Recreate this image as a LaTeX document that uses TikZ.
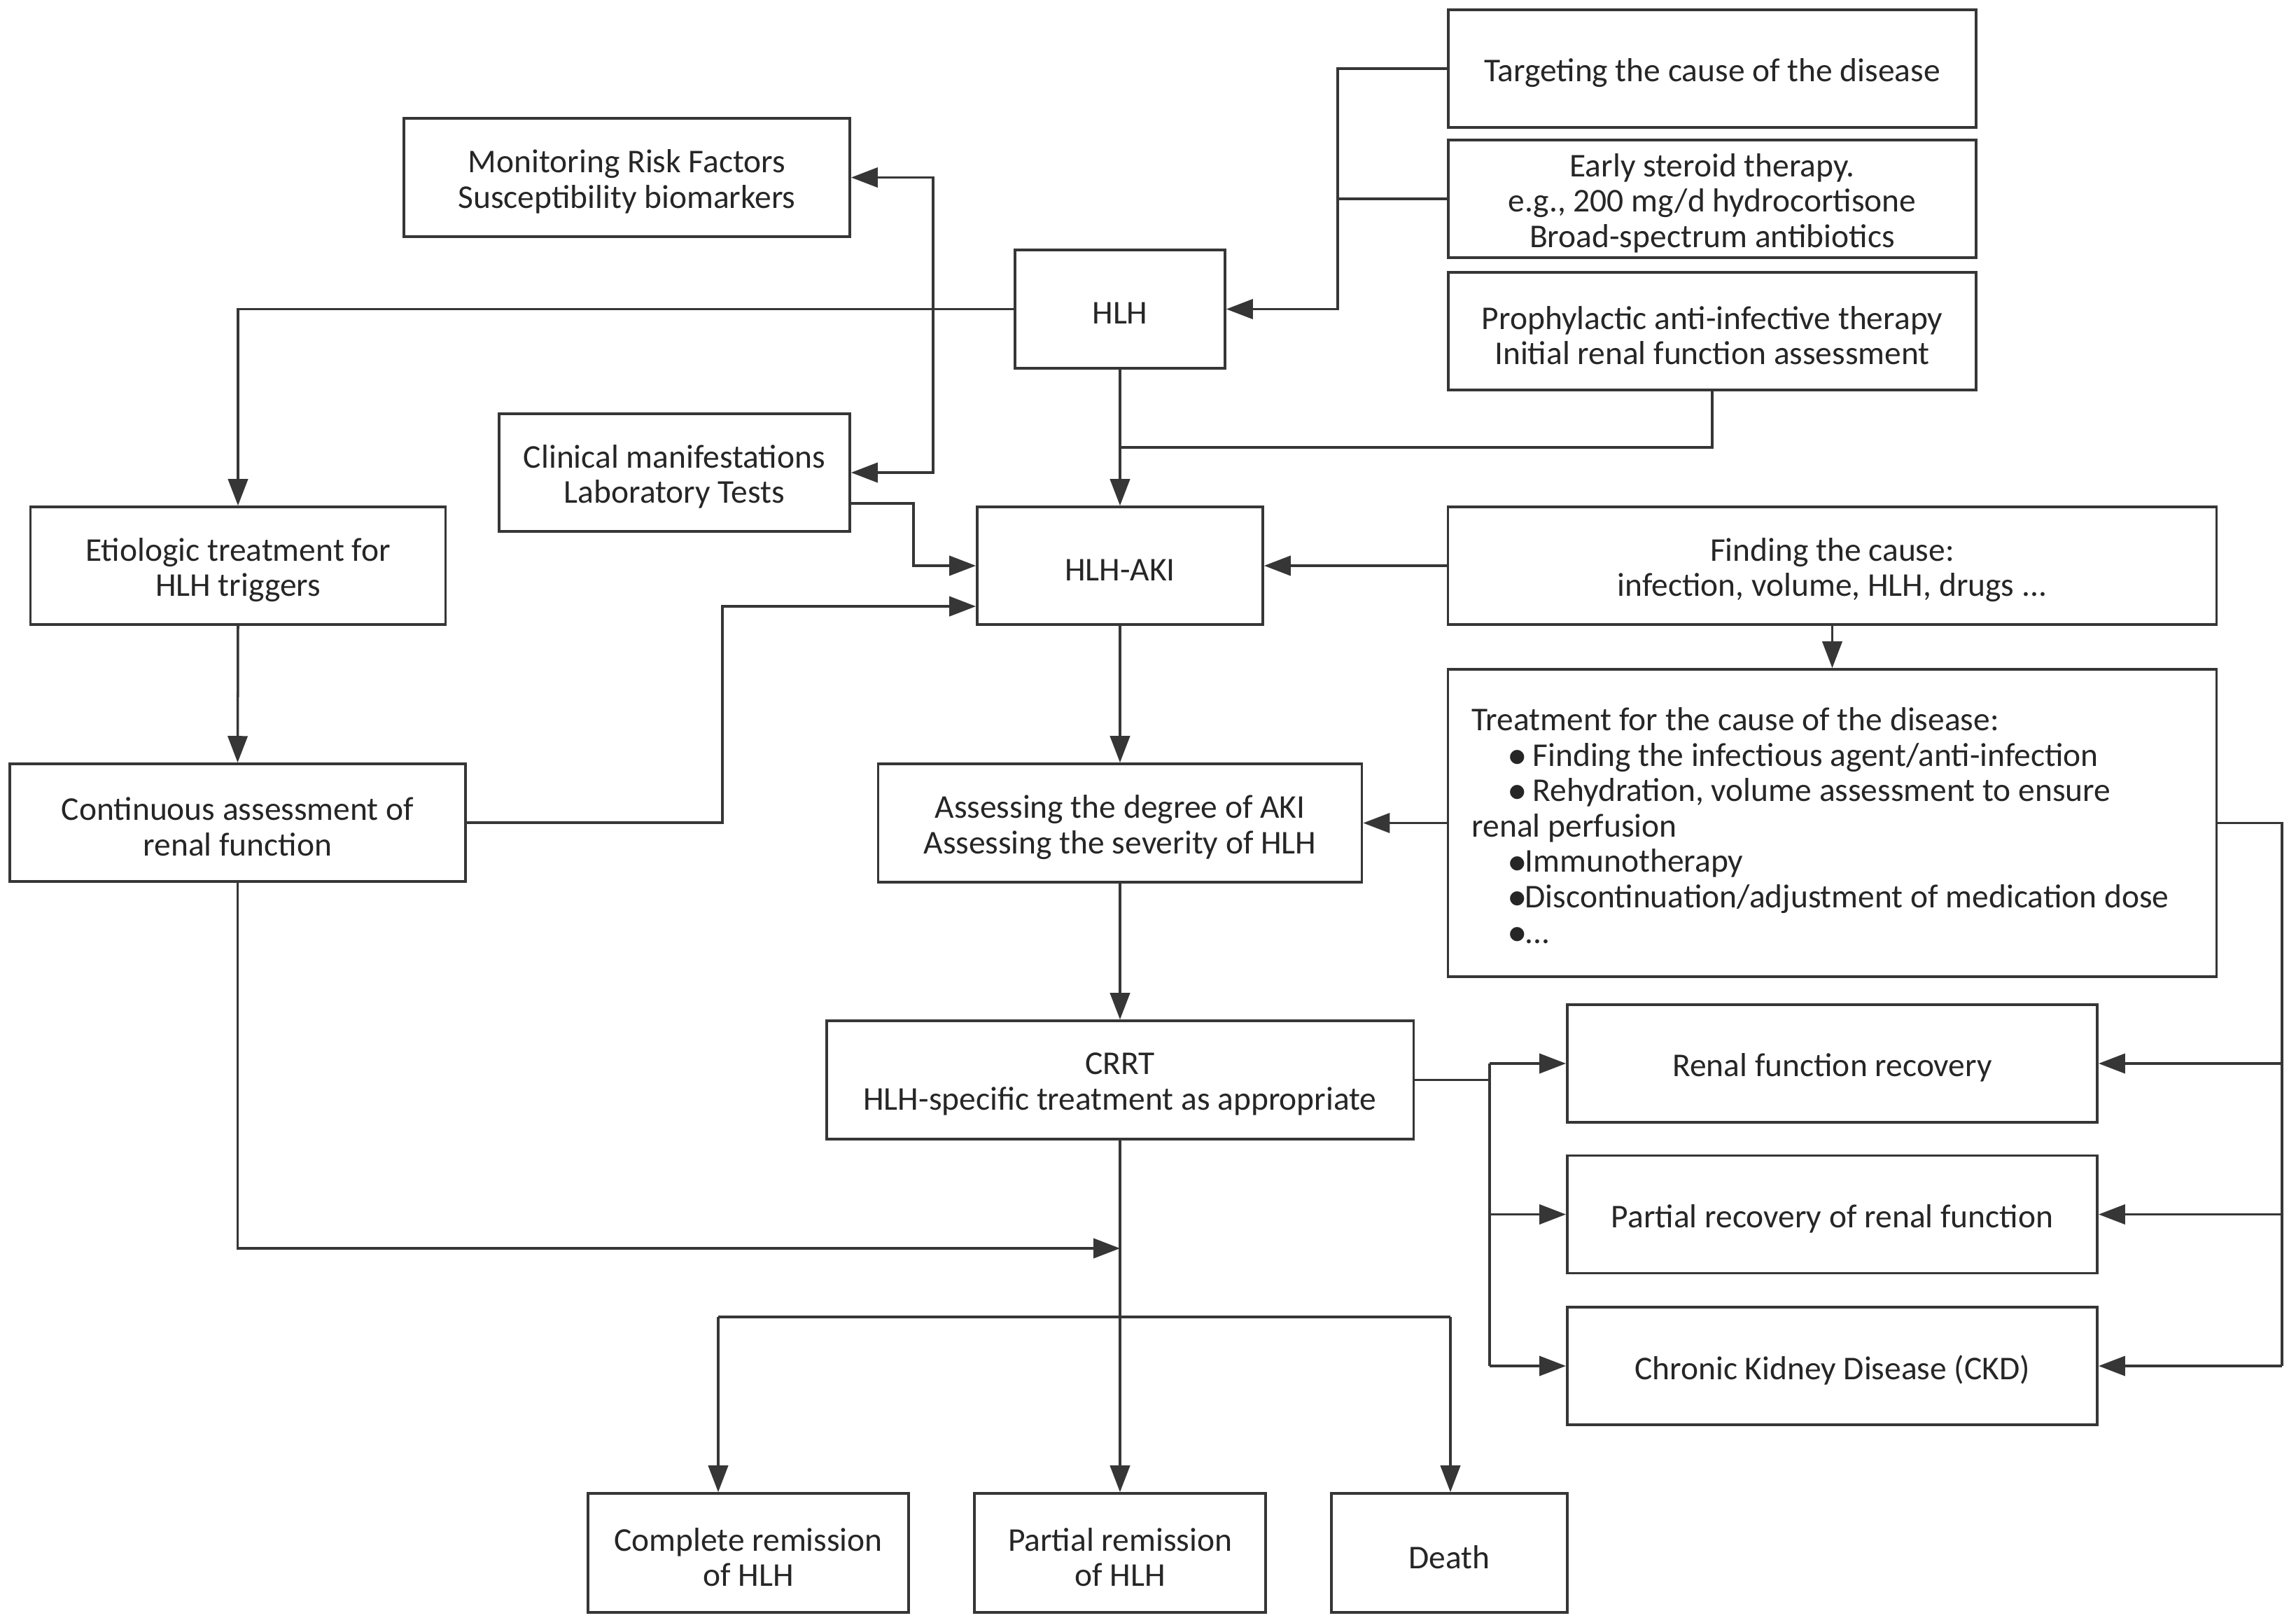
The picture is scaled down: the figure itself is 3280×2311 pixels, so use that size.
\documentclass[tikz,border=0pt]{standalone}
\usepackage{fontspec}
\setmainfont{Carlito}
\newfontfamily\symfont{DejaVu Sans}
\usetikzlibrary{arrows.meta}
\definecolor{ln}{HTML}{363636}
\definecolor{tx}{HTML}{262626}
\newcommand{\bul}{\raisebox{0.12em}{\symfont\fontsize{7.5}{7.5}\selectfont ●}}
% \bx{name}{x,y}{width}{height}{text}
\newcommand{\bx}[5]{%
  \node[box,minimum width=#3,minimum height=#4] (#1) at (#2) {};
  \node[txt] (#1-t) at ([yshift=-0.06cm]#1.center) {#5};}
\begin{document}
\begin{tikzpicture}[x=0.01cm,y=-0.01cm,
  box/.style={draw=ln,line width=1pt,inner sep=0pt},
  txt/.style={inner sep=0pt,align=center,text=tx,font=\fontsize{13.5}{14.4}\selectfont},
  arr/.style={draw=ln,line width=1pt,-{Triangle[length=10.8pt,width=8pt]}},
  ln/.style={draw=ln,line width=1pt}]
\useasboundingbox (0,0) rectangle (3280,2311);
\fill[white] (0,0) rectangle (3280,2311);
% nodes
\bx{mon}{895.5,253.5}{6.37cm}{1.69cm}{Monitoring Risk Factors\\Susceptibility biomarkers}
\bx{hlh}{1600,441.5}{3.00cm}{1.69cm}{HLH}
\bx{tgt}{2446,98}{7.54cm}{1.68cm}{Targeting the cause of the disease}
\bx{ster}{2446,284}{7.54cm}{1.68cm}{Early steroid therapy.\\e.g., 200 mg/d hydrocortisone\\Broad-spectrum antibiotics}
\bx{pro}{2446,473}{7.54cm}{1.68cm}{Prophylactic anti-infective therapy\\Initial renal function assessment}
\bx{cli}{963.5,675}{5.01cm}{1.68cm}{Clinical manifestations\\Laboratory Tests}
\bx{eti}{340,808}{5.93cm}{1.68cm}{Etiologic treatment for\\HLH triggers}
\bx{aki}{1600,808}{4.08cm}{1.68cm}{HLH-AKI}
\bx{fnd}{2617.5,808}{10.97cm}{1.68cm}{Finding the cause:\\infection, volume, HLH, drugs ...}
\bx{cont}{339.5,1175}{6.51cm}{1.68cm}{Continuous assessment of\\renal function}
\bx{ass}{1600,1175.5}{6.91cm}{1.69cm}{Assessing the degree of AKI\\Assessing the severity of HLH}
\node[box,minimum width=10.97cm,minimum height=4.39cm] (trt) at (2617.5,1175.5) {};
\node[txt,anchor=west,align=left] (trt-t) at (2102,1179)
 {Treatment for the cause of the disease:\\
  \hspace*{0.53cm}\bul\ Finding the infectious agent/anti-infection\\
  \hspace*{0.53cm}\bul\ Rehydration, volume assessment to ensure\\
  renal perfusion\\
  \hspace*{0.53cm}\bul Immunotherapy\\
  \hspace*{0.53cm}\bul Discontinuation/adjustment of medication dose\\
  \hspace*{0.53cm}\bul...};
\bx{crrt}{1600,1542.5}{8.38cm}{1.69cm}{CRRT\\HLH-specific treatment as appropriate}
\bx{r1}{2617.5,1519}{7.57cm}{1.68cm}{Renal function recovery}
\bx{r2}{2617.5,1734.5}{7.57cm}{1.68cm}{Partial recovery of renal function}
\bx{r3}{2617.5,1951}{7.57cm}{1.68cm}{Chronic Kidney Disease (CKD)}
\bx{cr}{1069,2218}{4.58cm}{1.70cm}{Complete remission\\of HLH}
\bx{pr}{1600,2218}{4.16cm}{1.70cm}{Partial remission\\of HLH}
\bx{dth}{2070.5,2218}{3.37cm}{1.70cm}{Death}
% helper coordinates
\coordinate (bx) at (1911,0);
\coordinate (mx) at (1333,441.5);
\coordinate (j1) at (1600,639);
\coordinate (cx) at (1305,0);
\coordinate (kx) at (1032,0);
\coordinate (m1) at (1600,1783);
\coordinate (lb) at (1026,1881);
\coordinate (rb) at (2072,1881);
\coordinate (rx) at (2128,0);
\coordinate (ex) at (3260,0);
% connectors
\draw[arr] (tgt.west) -- (tgt.west -| bx) |- (hlh.east);
\draw[ln] (ster.west) -- (ster.west -| bx);
\draw[ln] (pro.south) |- (j1);
\draw[arr] (hlh.south) -- (aki.north);
\draw[arr] (hlh.west) -| (eti.north);
\draw[arr] (mx) |- (mon.east);
\draw[arr] (mx) |- (cli.east);
\draw[arr] ([yshift=-0.44cm]cli.east) -| ([yshift=-0.89cm]cli.east -| cx) |- (aki.west);
\draw[arr] (eti.south) -- (cont.north);
\draw[arr] (cont.east) -| ([yshift=-0.58cm]aki.west -| kx) -- ([yshift=-0.58cm]aki.west);
\draw[arr] (fnd.west) -- (aki.east);
\draw[arr] (fnd.south) -- (trt.north);
\draw[arr] (trt.west) -- (ass.east);
\draw[arr] (aki.south) -- (ass.north);
\draw[arr] (ass.south) -- (crrt.north);
\draw[arr] (crrt.south) -- (pr.north);
\draw[arr] (cont.south) |- (m1);
\draw[ln] (lb) -- (rb);
\draw[arr] (lb) -- (lb |- cr.north);
\draw[arr] (rb) -- (rb |- dth.north);
\draw[ln] (crrt.east) -- (crrt.east -| rx);
\draw[ln] (r1.west -| rx) -- (r3.west -| rx);
\draw[arr] (r1.west -| rx) -- (r1.west);
\draw[arr] (r2.west -| rx) -- (r2.west);
\draw[arr] (r3.west -| rx) -- (r3.west);
\draw[ln] (trt.east) -| (r3.east -| ex);
\draw[arr] (r1.east -| ex) -- (r1.east);
\draw[arr] (r2.east -| ex) -- (r2.east);
\draw[arr] (r3.east -| ex) -- (r3.east);
\end{tikzpicture}
\end{document}
